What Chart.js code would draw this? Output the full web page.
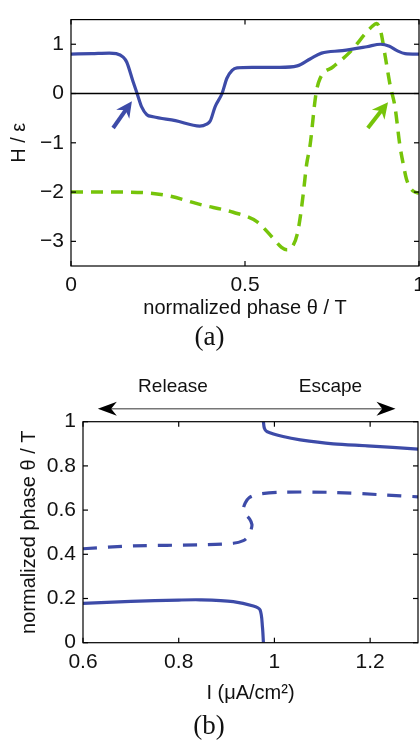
<!DOCTYPE html>
<html lang="en">
<head>
<meta charset="UTF-8">
<script src="https://cdn.jsdelivr.net/npm/chart.js"></script>
<title>Phase response</title>
<style>
  html, body { margin: 0; padding: 0; background: #fff; overflow: hidden; width: 420px; height: 744px; }
  canvas { position: absolute; left: 0; }
  #chartA { top: 0; }
  #chartB { top: 360px; }
</style>
</head>
<body>
<canvas id="chartA" width="440" height="360"></canvas>
<canvas id="chartB" width="440" height="384"></canvas>
<script>
// ---- panel (a) data ----
var phaseBlue = [0, 0.06, 0.11, 0.13, 0.15, 0.16, 0.178, 0.19, 0.203, 0.218, 0.236, 0.30, 0.37, 0.39, 0.40, 0.414, 0.434, 0.448, 0.463, 0.477, 0.52, 0.60, 0.65, 0.687, 0.72, 0.78, 0.85, 0.89, 0.915, 0.937, 0.96, 1.0];
var hBlue = [0.80, 0.81, 0.82, 0.81, 0.74, 0.64, 0.25, 0.0, -0.27, -0.43, -0.47, -0.55, -0.66, -0.62, -0.56, -0.27, 0.0, 0.31, 0.47, 0.52, 0.53, 0.53, 0.56, 0.70, 0.82, 0.87, 0.95, 1.0, 0.96, 0.87, 0.81, 0.80];

var phaseGreen = [0, 0.13, 0.227, 0.284, 0.37, 0.466, 0.534, 0.58, 0.605, 0.62, 0.635, 0.65, 0.66, 0.668, 0.677, 0.687, 0.704, 0.716, 0.753, 0.80, 0.865, 0.878, 0.89, 0.903, 0.917, 0.931, 0.945, 0.955, 0.965, 0.983, 1.0];
var hGreen = [-2.0, -2.0, -2.02, -2.08, -2.25, -2.41, -2.6, -2.93, -3.12, -3.17, -3.12, -2.86, -2.45, -2.0, -1.44, -1.05, 0.0, 0.31, 0.54, 0.83, 1.36, 1.42, 1.26, 0.75, 0.17, -0.27, -1.05, -1.44, -1.76, -1.98, -2.02];

var zeroX = [0, 1];
var zeroY = [0, 0];

var xTicksA = [0, 0.5, 1];
var yTicksA = [-3, -2, -1, 0, 1];

// arrow tails / heads in data units
var arrowTailA = [[0.121, -0.70], [0.853, -0.70]];
var arrowHeadA = [[0.175, -0.155], [0.911, -0.175]];

// ---- panel (b) data ----
var iUpper = [0.977, 0.979, 0.984, 1.018, 1.054, 1.123, 1.194, 1.30];
var thUpper = [1.0, 0.97, 0.956, 0.933, 0.918, 0.90, 0.891, 0.876];

var iLower = [0.6, 0.7, 0.8, 0.845, 0.914, 0.956, 0.970, 0.975, 0.977];
var thLower = [0.178, 0.187, 0.193, 0.194, 0.186, 0.166, 0.148, 0.07, 0.0];

var iMid = [0.6, 0.705, 0.845, 0.914, 0.935, 0.945, 0.951, 0.953, 0.948, 0.938, 0.935, 0.939, 0.947, 0.966, 1.018, 1.123, 1.228, 1.30];
var thMid = [0.425, 0.438, 0.443, 0.45, 0.462, 0.48, 0.51, 0.535, 0.56, 0.585, 0.605, 0.632, 0.656, 0.672, 0.681, 0.68, 0.669, 0.66];

var xTicksB = [0.6, 0.8, 1, 1.2];
var yTicksB = [0, 0.2, 0.4, 0.6, 0.8, 1];

var releaseSpan = [0.631, 1.253];
var labelPos = [0.788, 1.117];

var BLUE = '#3d4ba8';
var GREEN = '#76c40a';

Chart.defaults.font.family = "'Liberation Sans', Arial, sans-serif";
Chart.defaults.font.size = 21;
Chart.defaults.color = '#111';

function pts(xs, ys) {
  return xs.map(function (x, i) { return { x: x, y: ys[i] }; });
}

function fmt(v) {
  return (v < 0 ? '\u2212' : '') + Math.abs(v);
}

function line(ctx, x1, y1, x2, y2) {
  ctx.beginPath();
  ctx.moveTo(x1, y1);
  ctx.lineTo(x2, y2);
  ctx.stroke();
}

// box round the plot with inward ticks on all four sides
var framePlugin = {
  id: 'frame',
  afterDatasetsDraw: function (chart) {
    var ctx = chart.ctx, a = chart.chartArea, x = chart.scales.x, y = chart.scales.y;
    ctx.save();
    ctx.strokeStyle = '#000';
    ctx.lineWidth = 1.2;
    ctx.strokeRect(a.left, a.top, a.right - a.left, a.bottom - a.top);
    x.ticks.forEach(function (t) {
      var px = x.getPixelForValue(t.value);
      line(ctx, px, a.bottom, px, a.bottom - 5);
      line(ctx, px, a.top, px, a.top + 5);
    });
    y.ticks.forEach(function (t) {
      var py = y.getPixelForValue(t.value);
      line(ctx, a.left, py, a.left + 5, py);
      line(ctx, a.right, py, a.right - 5, py);
    });
    ctx.restore();
  }
};

function arrowHead(ctx, x1, y1, x2, y2, len, half) {
  var ang = Math.atan2(y2 - y1, x2 - x1);
  ctx.beginPath();
  ctx.moveTo(x2, y2);
  ctx.lineTo(x2 - len * Math.cos(ang) + half * Math.sin(ang), y2 - len * Math.sin(ang) - half * Math.cos(ang));
  ctx.lineTo(x2 - len * 0.7 * Math.cos(ang), y2 - len * 0.7 * Math.sin(ang));
  ctx.lineTo(x2 - len * Math.cos(ang) - half * Math.sin(ang), y2 - len * Math.sin(ang) + half * Math.cos(ang));
  ctx.closePath();
  ctx.fill();
}

var pointerPlugin = {
  id: 'pointers',
  afterDatasetsDraw: function (chart) {
    var ctx = chart.ctx, x = chart.scales.x, y = chart.scales.y;
    var cols = [BLUE, GREEN];
    ctx.save();
    arrowTailA.forEach(function (t, i) {
      var h = arrowHeadA[i];
      var x1 = x.getPixelForValue(t[0]), y1 = y.getPixelForValue(t[1]);
      var x2 = x.getPixelForValue(h[0]), y2 = y.getPixelForValue(h[1]);
      var ang = Math.atan2(y2 - y1, x2 - x1);
      ctx.strokeStyle = cols[i];
      ctx.fillStyle = cols[i];
      ctx.lineWidth = 4;
      line(ctx, x1, y1, x2 - 10 * Math.cos(ang), y2 - 10 * Math.sin(ang));
      arrowHead(ctx, x1, y1, x2, y2, 16, 8);
    });
    ctx.restore();
  }
};

var releasePlugin = {
  id: 'release',
  afterDraw: function (chart) {
    var ctx = chart.ctx, x = chart.scales.x, a = chart.chartArea;
    var yy = a.top - 13;
    var x1 = x.getPixelForValue(releaseSpan[0]), x2 = x.getPixelForValue(releaseSpan[1]);
    ctx.save();
    ctx.strokeStyle = '#777';
    ctx.lineWidth = 1.5;
    line(ctx, x1 + 12, yy, x2 - 12, yy);
    ctx.fillStyle = '#000';
    arrowHead(ctx, x2, yy, x1, yy, 19, 7);
    arrowHead(ctx, x1, yy, x2, yy, 19, 7);
    ctx.font = "19px 'Liberation Sans', Arial, sans-serif";
    ctx.textAlign = 'center';
    ctx.textBaseline = 'middle';
    ctx.fillStyle = '#111';
    ctx.fillText('Release', x.getPixelForValue(labelPos[0]), a.top - 35);
    ctx.fillText('Escape', x.getPixelForValue(labelPos[1]), a.top - 35);
    ctx.restore();
  }
};

function axis(ticksArr, min, max, title, pad, size, horizontal) {
  return {
    type: 'linear',
    min: min,
    max: max,
    grid: { display: false, drawTicks: false },
    border: { display: false },
    afterBuildTicks: function (s) { s.ticks = ticksArr.map(function (v) { return { value: v }; }); },
    afterFit: function (s) { if (horizontal) s.height = size; else s.width = size; },
    ticks: { padding: 7, maxRotation: 0, autoSkip: false, callback: fmt, color: '#111' },
    title: { display: true, text: title, padding: pad, color: '#111', font: { size: 20 } }
  };
}

new Chart(document.getElementById('chartA'), {
  type: 'line',
  data: {
    datasets: [
      { data: pts(zeroX, zeroY), borderColor: '#000', borderWidth: 1.5, pointRadius: 0 },
      { data: pts(phaseBlue, hBlue), borderColor: BLUE, borderWidth: 3.2, pointRadius: 0, cubicInterpolationMode: 'monotone' },
      { data: pts(phaseGreen, hGreen), borderColor: GREEN, borderWidth: 3.5, borderDash: [12, 8], pointRadius: 0, cubicInterpolationMode: 'monotone' }
    ]
  },
  options: {
    responsive: false,
    animation: false,
    layout: { padding: { left: 0, right: 21, top: 9, bottom: 0 } },
    plugins: {
      legend: { display: false },
      tooltip: { enabled: false },
      title: { display: true, position: 'bottom', text: '(a)', color: '#111',
        font: { family: "'Liberation Serif', 'Times New Roman', serif", size: 27, weight: 'normal' },
        padding: { top: 0, bottom: 5.8 } }
    },
    scales: {
      x: axis(xTicksA, 0, 1, 'normalized phase \u03b8 / T', { top: 0, bottom: 1.8 }, 55.8, true),
      y: axis(yTicksA, -3.5, 1.5, 'H / \u03b5', { top: 7.5, bottom: 0 }, 71, false)
    }
  },
  plugins: [framePlugin, pointerPlugin]
});

new Chart(document.getElementById('chartB'), {
  type: 'line',
  data: {
    datasets: [
      { data: pts(iUpper, thUpper), borderColor: BLUE, borderWidth: 3.2, pointRadius: 0, tension: 0.3 },
      { data: pts(iMid, thMid), borderColor: BLUE, borderWidth: 3.2, borderDash: [14, 11], pointRadius: 0, tension: 0.3 },
      { data: pts(iLower, thLower), borderColor: BLUE, borderWidth: 3.2, pointRadius: 0, tension: 0.3 }
    ]
  },
  options: {
    responsive: false,
    animation: false,
    layout: { padding: { left: 0, right: 22, top: 61.7, bottom: 0 } },
    plugins: {
      legend: { display: false },
      tooltip: { enabled: false },
      title: { display: true, position: 'bottom', text: '(b)', color: '#111',
        font: { family: "'Liberation Serif', 'Times New Roman', serif", size: 27, weight: 'normal' },
        padding: { top: 0, bottom: 1.1 } }
    },
    scales: {
      x: axis(xTicksB, 0.6, 1.3, 'I (\u03bcA/cm\u00b2)', { top: 0, bottom: 5.5 }, 67.8, true),
      y: axis(yTicksB, 0, 1, 'normalized phase \u03b8 / T', { top: 17, bottom: 0 }, 83, false)
    }
  },
  plugins: [framePlugin, releasePlugin]
});
</script>
</body>
</html>
